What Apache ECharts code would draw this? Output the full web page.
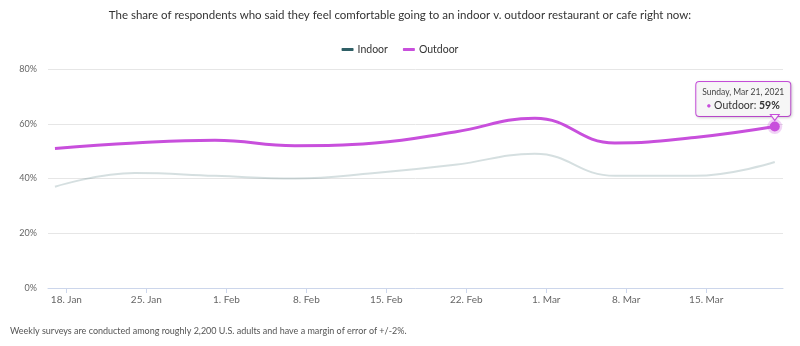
<!DOCTYPE html>
<html><head><meta charset="utf-8">
<script src="https://cdn.jsdelivr.net/npm/echarts@6/dist/echarts.min.js"></script>
<style>html,body{margin:0;padding:0;background:#fff}#c{width:800px;height:346px}</style>
</head><body><div id="c"></div>
<script>
const dates = ['2021-01-17','2021-01-24','2021-01-31','2021-02-07','2021-02-14','2021-02-21','2021-02-28','2021-03-07','2021-03-14','2021-03-21'];
const indoor = [37,42,41,40,42,45,49,41,41,46];
const outdoor = [51,53,54,52,53,57,62,53,55,59];
const tickDates = ['2021-01-18','2021-01-25','2021-02-01','2021-02-08','2021-02-15','2021-02-22','2021-03-01','2021-03-08','2021-03-15'];
const tickLabels = ['18. Jan','25. Jan','1. Feb','8. Feb','15. Feb','22. Feb','1. Mar','8. Mar','15. Mar'];

const DAY = 86400000;
const ts = s => Date.UTC(+s.slice(0,4), +s.slice(5,7)-1, +s.slice(8,10));
const base = ts(tickDates[0]);
const dayOf = s => Math.round((ts(s)-base)/DAY);
const tickDays = tickDates.map(dayOf);
const FONT = 'Lato';
const INDOOR_C = '#2f5f66', OUT_C = '#c84fdc';
const last = dates.length-1;
const dayNames=['Sunday','Monday','Tuesday','Wednesday','Thursday','Friday','Saturday'];
const monNames=['Jan','Feb','Mar','Apr','May','Jun','Jul','Aug','Sep','Oct','Nov','Dec'];
const fmtDate = s => {const d=new Date(ts(s));return dayNames[d.getUTCDay()]+', '+monNames[d.getUTCMonth()]+' '+d.getUTCDate()+', '+d.getUTCFullYear();};

const chart = echarts.init(document.getElementById('c'), null, {renderer:'canvas'});
chart.setOption({
  animation:false,
  textStyle:{fontFamily:FONT},
  title:[{text:'The share of respondents who said they feel comfortable going to an indoor v. outdoor restaurant or cafe right now:',
    left:'center', top:4, textStyle:{fontFamily:FONT,fontSize:11.5,fontWeight:'normal',color:'#333'}},
    {text:'Weekly surveys are conducted among roughly 2,200 U.S. adults and have a margin of error of +/-2%.',
    left:5, top:322, textStyle:{fontFamily:FONT,fontSize:9,fontWeight:'normal',color:'#555'}}],
  legend:{top:39, left:'center', itemWidth:12, itemHeight:3, itemGap:15,
    textStyle:{fontFamily:FONT,fontSize:10.5,color:'#333',padding:[0,0,0,-1]},
    data:[{name:'Indoor',icon:'roundRect',itemStyle:{color:INDOOR_C}},{name:'Outdoor',icon:'roundRect',itemStyle:{color:OUT_C}}]},
  grid:{left:48,right:17,top:69,bottom:58},
  xAxis:{type:'value', min:-1.61, max:dayOf(dates[last])+0.72,
    splitLine:{show:false},
    axisLine:{lineStyle:{color:'#ccd6eb'}},
    axisTick:{show:true, length:5, lineStyle:{color:'#ccd6eb'}, customValues:tickDays},
    axisLabel:{customValues:tickDays, color:'#666', fontSize:10, fontFamily:FONT, margin:7,
      formatter:(v)=>{const i=tickDays.indexOf(Math.round(v));return i>=0?tickLabels[i]:'';}}},
  yAxis:{type:'value', min:0, max:80, interval:20,
    axisLabel:{formatter:'{value}%', color:'#666', fontSize:9, fontFamily:FONT, margin:11},
    splitLine:{lineStyle:{color:'#e6e6e6'}},
    axisLine:{show:false}, axisTick:{show:false}},
  series:[
    {name:'Indoor', type:'line', smooth:0.45, showSymbol:false, symbol:'none',
      itemStyle:{color:INDOOR_C},
      lineStyle:{color:'rgba(47,95,102,0.2)', width:2}, emphasis:{disabled:true}, silent:true,
      data:dates.map((d,i)=>[dayOf(d),indoor[i]])},
    {name:'Outdoor', type:'line', smooth:0.45, showSymbol:true, symbol:'circle', symbolSize:0,
      itemStyle:{color:OUT_C}, lineStyle:{color:OUT_C, width:3}, emphasis:{disabled:true}, z:3,
      markPoint:{silent:true, z:4, data:[{coord:[dayOf(dates[last]), outdoor[last]], symbol:'triangle', symbolRotate:180,
        symbolSize:[9,6], symbolOffset:[0,-9], itemStyle:{color:'#f7f7f7', borderColor:OUT_C, borderWidth:1}, label:{show:false}}]},
      data:dates.map((d,i)=> i===last ?
        {value:[dayOf(d),outdoor[i]], symbolSize:10,
         itemStyle:{color:OUT_C, borderColor:'rgba(200,79,220,0.25)', borderWidth:5},
         label:{show:true, position:'top', distance:6, offset:[-31.5,3],
           backgroundColor:'rgba(247,247,247,0.97)', borderColor:OUT_C, borderWidth:1, borderRadius:3,
           padding:[4,6,3,6], shadowColor:'rgba(0,0,0,0.15)', shadowBlur:3, shadowOffsetX:1, shadowOffsetY:1,
           formatter:()=>'{d|'+fmtDate(d)+'}\n{b|\u25CF} {t|Outdoor: }{v|'+outdoor[i]+'%}',
           rich:{d:{fontFamily:FONT,fontSize:8.5,color:'#444',lineHeight:13},
                 b:{fontFamily:FONT,fontSize:7,color:OUT_C,lineHeight:14},
                 t:{fontFamily:FONT,fontSize:10.5,color:'#333',lineHeight:14},
                 v:{fontFamily:FONT,fontSize:10.5,color:'#333',fontWeight:'bold',lineHeight:14}}}} :
        {value:[dayOf(d),outdoor[i]]})}
  ]
});
</script></body></html>
